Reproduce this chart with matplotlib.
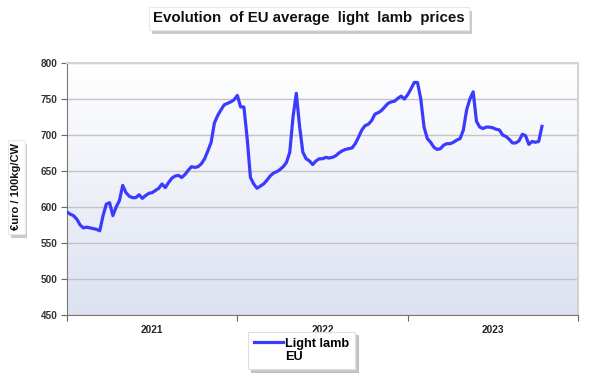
import numpy as np
import matplotlib
matplotlib.use("Agg")
import matplotlib.pyplot as plt
from matplotlib.colors import LinearSegmentedColormap
from matplotlib.lines import Line2D
from matplotlib.transforms import offset_copy

plt.rcParams['font.family'] = ['Liberation Sans', 'DejaVu Sans']
plt.rcParams['font.weight'] = 'bold'

# weekly EU light lamb price, euro / 100kg CW, from week 1 of 2021
price = [593, 590, 588, 583, 575, 571, 572, 571, 570, 569,
         567, 588, 604, 606, 588, 600, 609, 630, 620, 615,
         613, 613, 617, 612, 616, 619, 620, 623, 626, 632,
         627, 634, 640, 643, 644, 641, 645, 651, 656, 655,
         656, 660, 667, 678, 690, 717, 727, 735, 742, 744,
         746, 749, 755, 739, 739, 695, 641, 632, 626, 629,
         632, 637, 643, 647, 649, 652, 656, 662, 676, 725,
         758, 712, 676, 667, 664, 659, 664, 667, 667, 669,
         668, 669, 671, 675, 678, 680, 681, 682, 688, 697,
         707, 713, 715, 720, 729, 731, 734, 739, 744, 746,
         747, 751, 754, 750, 756, 764, 773, 773, 750, 711,
         695, 690, 683, 680, 681, 686, 688, 688, 690, 693,
         695, 707, 735, 750, 760, 719, 711, 709, 711, 711,
         710, 708, 707, 700, 698, 694, 689, 689, 692, 701,
         699, 687, 691, 690, 691, 712]
years = ['2021', '2022', '2023']
weeks_per_year = 52
legend_lines = ['Light lamb', 'EU']

week = np.arange(len(price))

fig = plt.figure(figsize=(6.06, 3.76), dpi=100)
ax = fig.add_axes([0.1106, 0.1622, 0.8432, 0.6702])

# plot area gradient
cmap = LinearSegmentedColormap.from_list('bg', ['#dce2f2', '#ffffff'])
ax.imshow(np.linspace(0, 1, 256).reshape(-1, 1), extent=[0, 1, 0, 1],
          transform=ax.transAxes, cmap=cmap, aspect='auto', origin='lower', zorder=0)

line, = ax.plot(week, price, color='#3b3bff', linewidth=2.3, zorder=3)

ax.set_xlim(0, weeks_per_year * len(years))
ax.set_ylim(450, 800)
ax.set_yticks(np.arange(450, 801, 50))
ax.yaxis.grid(True, color='#c4c4c4', linewidth=1.0, zorder=1)
ax.set_axisbelow(True)

ax.set_xticks([weeks_per_year * k for k in range(len(years) + 1)])
ax.set_xticklabels([])
ax.set_xticks([weeks_per_year * (k + 0.5) for k in range(len(years))], minor=True)
ax.set_xticklabels(years, minor=True)
ax.tick_params(axis='x', which='minor', length=0, pad=7, labelsize=7.2, labelcolor='#222222')
ax.tick_params(axis='x', which='major', length=4, color='#666666', direction='out')
ax.tick_params(axis='y', length=4, color='#666666', labelsize=7.2, labelcolor='#333333', pad=3)

for s in ['left', 'bottom']:
    ax.spines[s].set_color('#777777')
for s in ['top', 'right']:
    ax.spines[s].set_color('#d4d4d4')
    ax.spines[s].set_linewidth(1.5)


def boxed_text(x, y, s, **kw):
    shadow_tr = offset_copy(fig.transFigure, fig=fig, x=2, y=-3, units='points')
    fig.text(x, y, s, transform=shadow_tr, alpha=0,
             bbox=dict(boxstyle='square,pad=0.3', facecolor='#a8a8a8', edgecolor='none', alpha=0.6), **kw)
    fig.text(x, y, s, color='#111111',
             bbox=dict(boxstyle='square,pad=0.3', facecolor='white', edgecolor='#e8e8e8', linewidth=0.8), **kw)


boxed_text(0.51, 0.951, 'Evolution  of EU average  light  lamb  prices',
           fontsize=10.8, fontweight='bold', ha='center', va='center')
boxed_text(0.027, 0.503, '€uro / 100kg/CW', fontsize=8, fontweight='bold',
           rotation=90, ha='center', va='center')

blank = Line2D([], [], color='none')
leg = fig.legend(handles=[line, blank], labels=legend_lines,
                 loc='upper center', bbox_to_anchor=(0.498, 0.117), frameon=True,
                 fancybox=False, shadow={'color': '#b0b0b0', 'alpha': 0.7},
                 handlelength=2.3, handletextpad=0.15, borderpad=0.45, labelspacing=0.12,
                 borderaxespad=0, prop={'size': 9.2, 'weight': 'bold'})
leg.get_frame().set_edgecolor('#e0e0e0')
leg.get_frame().set_linewidth(0.8)

fig.savefig('out.png', dpi=100)
